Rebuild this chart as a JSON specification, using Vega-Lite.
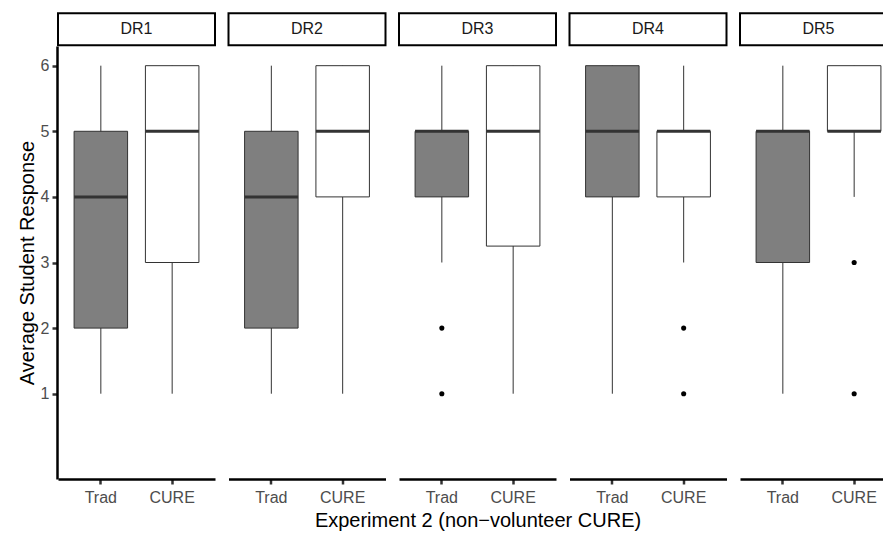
{
  "$schema": "https://vega.github.io/schema/vega-lite/v6.json",
  "padding": {"left": 17, "top": 12, "right": 0, "bottom": 0},
  "background": "white",
  "data": {"values": [
    {"type": "box", "panel": "DR1", "group": "Trad", "lower": 1, "q1": 2, "median": 4, "q3": 5, "upper": 6},
    {"type": "box", "panel": "DR1", "group": "CURE", "lower": 1, "q1": 3, "median": 5, "q3": 6, "upper": 6},
    {"type": "box", "panel": "DR2", "group": "Trad", "lower": 1, "q1": 2, "median": 4, "q3": 5, "upper": 6},
    {"type": "box", "panel": "DR2", "group": "CURE", "lower": 1, "q1": 4, "median": 5, "q3": 6, "upper": 6},
    {"type": "box", "panel": "DR3", "group": "Trad", "lower": 3, "q1": 4, "median": 5, "q3": 5, "upper": 6},
    {"type": "box", "panel": "DR3", "group": "CURE", "lower": 1, "q1": 3.25, "median": 5, "q3": 6, "upper": 6},
    {"type": "box", "panel": "DR4", "group": "Trad", "lower": 1, "q1": 4, "median": 5, "q3": 6, "upper": 6},
    {"type": "box", "panel": "DR4", "group": "CURE", "lower": 3, "q1": 4, "median": 5, "q3": 5, "upper": 6},
    {"type": "box", "panel": "DR5", "group": "Trad", "lower": 1, "q1": 3, "median": 5, "q3": 5, "upper": 6},
    {"type": "box", "panel": "DR5", "group": "CURE", "lower": 4, "q1": 5, "median": 5, "q3": 6, "upper": 6},
    {"type": "out", "panel": "DR3", "group": "Trad", "value": 2},
    {"type": "out", "panel": "DR3", "group": "Trad", "value": 1},
    {"type": "out", "panel": "DR4", "group": "CURE", "value": 2},
    {"type": "out", "panel": "DR4", "group": "CURE", "value": 1},
    {"type": "out", "panel": "DR5", "group": "CURE", "value": 3},
    {"type": "out", "panel": "DR5", "group": "CURE", "value": 1}
  ]},
  "facet": {
    "column": {
      "field": "panel", "type": "nominal",
      "title": "Experiment 2 (non−volunteer CURE)",
      "header": {"labels": false, "titleOrient": "bottom", "titleFontSize": 20, "titleFont": "Liberation Sans", "titleColor": "black", "titleFontWeight": "normal", "titlePadding": -4}
    }
  },
  "spacing": 11.5,
  "spec": {
    "width": 157,
    "height": 433,
    "encoding": {
      "x": {"field": "group", "type": "nominal", "sort": ["Trad", "CURE"],
            "scale": {"paddingInner": 0.25, "paddingOuter": 0.2255},
            "axis": {"title": null, "labelAngle": 0, "labelPadding": 5}}
    },
    "layer": [
      {
        "transform": [{"filter": "datum.type === 'box'"}],
        "mark": {"type": "rule", "color": "#333333", "strokeWidth": 1},
        "encoding": {
          "y": {"field": "lower", "type": "quantitative",
                "scale": {"domain": [-0.3, 6.3], "nice": false, "zero": false},
                "axis": {"title": "Average Student Response", "values": [1, 2, 3, 4, 5, 6], "format": "d", "grid": false, "titlePadding": 3}},
          "y2": {"field": "upper"}
        }
      },
      {
        "transform": [{"filter": "datum.type === 'box'"}],
        "mark": {"type": "bar", "stroke": "#333333", "strokeWidth": 1},
        "encoding": {
          "y": {"field": "q1", "type": "quantitative"},
          "y2": {"field": "q3"},
          "fill": {"field": "group", "type": "nominal", "scale": {"domain": ["Trad", "CURE"], "range": ["#7f7f7f", "#ffffff"]}, "legend": null}
        }
      },
      {
        "transform": [{"filter": "datum.type === 'box'"}],
        "mark": {"type": "bar", "stroke": "#333333", "strokeWidth": 3, "fill": null},
        "encoding": {
          "y": {"field": "median", "type": "quantitative"},
          "y2": {"field": "median"}
        }
      },
      {
        "transform": [{"filter": "datum.type === 'out'"}],
        "mark": {"type": "point", "filled": true, "color": "black", "size": 26, "opacity": 1},
        "encoding": {
          "y": {"field": "value", "type": "quantitative"}
        }
      },
      {
        "transform": [{"filter": "datum.type === 'box' && datum.group === 'Trad'"}],
        "mark": {"type": "rect", "fill": "white", "stroke": "black", "strokeWidth": 2, "clip": false},
        "encoding": {
          "x": null,
          "y": {"datum": 6.31, "type": "quantitative"},
          "y2": {"datum": 6.8}
        }
      },
      {
        "transform": [{"filter": "datum.type === 'box' && datum.group === 'Trad'"}],
        "mark": {"type": "text", "fontSize": 16, "font": "Liberation Sans", "color": "#1a1a1a", "clip": false},
        "encoding": {
          "x": null,
          "y": {"datum": 6.555, "type": "quantitative"},
          "text": {"field": "panel"}
        }
      }
    ]
  },
  "config": {
    "view": {"stroke": null},
    "axis": {
      "domainColor": "black", "domainWidth": 2.5,
      "tickColor": "#333333", "tickWidth": 2.5, "tickSize": 5,
      "labelFont": "Liberation Sans", "labelFontSize": 16, "labelColor": "#4d4d4d", "labelPadding": 3,
      "titleFont": "Liberation Sans", "titleFontSize": 20, "titleFontWeight": "normal", "titleColor": "black"
    }
  }
}
